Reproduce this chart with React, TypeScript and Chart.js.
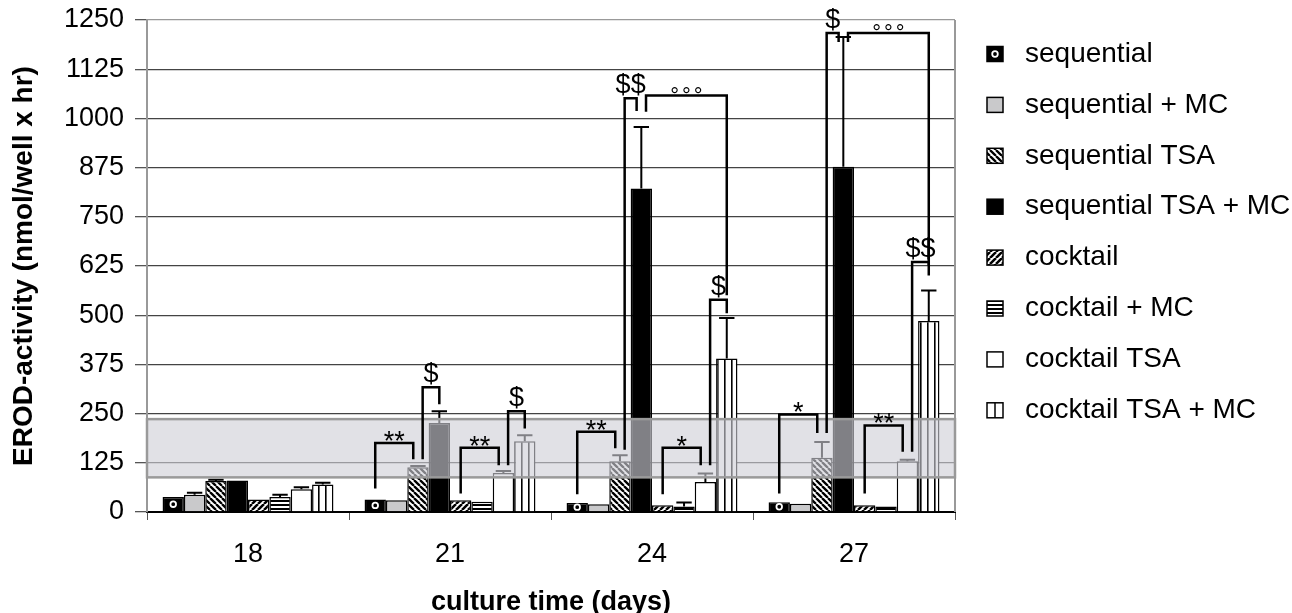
import React, { useEffect, useRef } from 'react';
import { Chart, registerables } from 'chart.js';

Chart.register(...registerables);

const FONT = '"Liberation Sans", Arial, Helvetica, sans-serif';

// ---------- data ----------
const categories = ['18', '21', '24', '27'];
const seriesLabels = [
  'sequential',
  'sequential + MC',
  'sequential TSA',
  'sequential TSA + MC',
  'cocktail',
  'cocktail + MC',
  'cocktail TSA',
  'cocktail TSA + MC',
];
const xTitle = 'culture time (days)';
const yTitle = 'EROD-activity (nmol/well x hr)';

const sequential = [38, 32, 23, 25];
const sequentialMC = [44, 30, 20, 21];
const sequentialTSA = [79, 114, 129, 138];
const sequentialTSAMC = [80, 226, 822, 877];
const cocktail = [32, 30, 17, 17];
const cocktailMC = [38, 26, 14, 14];
const cocktailTSA = [58, 99, 76, 129];
const cocktailTSAMC = [70, 180, 390, 485];

const sequentialErr = [0, 0, 0, 0];
const sequentialMCErr = [5, 0, 0, 0];
const sequentialTSAErr = [3, 3, 15, 40];
const sequentialTSAMCErr = [0, 30, 156, 330];
const cocktailErr = [0, 0, 0, 0];
const cocktailMCErr = [6, 0, 10, 0];
const cocktailTSAErr = [5, 5, 22, 4];
const cocktailTSAMCErr = [4, 15, 103, 78];

const yMin = 0;
const yMax = 1250;
const yStep = 125;

// shaded reference range
const bandLow = 88;
const bandHigh = 236;

// significance brackets
const bracketCategory = [1, 1, 1, 1, 2, 2, 2, 2, 2, 3, 3, 3, 3, 3];
const bracketLeftSeries = [0, 2, 4, 6, 0, 2, 3, 4, 6, 0, 2, 3, 4, 6];
const bracketRightSeries = [2, 3, 6, 7, 2, 3, 7, 6, 7, 2, 3, 7, 6, 7];
const bracketLeftEnd = [60, 134, 47, 119, 45, 158, 1017, 45, 119, 47, 201, 1194, 47, 153];
const bracketTop = [175, 317, 163, 256, 204, 1051, 1058, 163, 539, 248, 1217, 1217, 220, 635];
const bracketRightEnd = [134, 274, 119, 212, 162, 1019, 551, 119, 505, 201, 1194, 627, 153, 601];
const bracketLabel = ['**', '$', '**', '$', '**', '$$', '°°°', '*', '$', '*', '$', '°°°', '**', '$$'];

const seriesValues = [sequential, sequentialMC, sequentialTSA, sequentialTSAMC, cocktail, cocktailMC, cocktailTSA, cocktailTSAMC];
const seriesErrors = [sequentialErr, sequentialMCErr, sequentialTSAErr, sequentialTSAMCErr, cocktailErr, cocktailMCErr, cocktailTSAErr, cocktailTSAMCErr];

// ---------- patterns ----------
function tile(w: number, h: number, draw: (g: CanvasRenderingContext2D) => void) {
  const c = document.createElement('canvas');
  c.width = w;
  c.height = h;
  const g = c.getContext('2d')!;
  g.fillStyle = '#fff';
  g.fillRect(0, 0, w, h);
  draw(g);
  return g.createPattern(c, 'repeat')!;
}

function makeFills(): (string | CanvasPattern)[] {
  const back = tile(6, 6, (g) => {
    g.strokeStyle = '#000';
    g.lineWidth = 2.3;
    g.beginPath();
    for (let k = -1; k <= 1; k++) {
      g.moveTo(k * 6, 0);
      g.lineTo(k * 6 + 6, 6);
    }
    g.stroke();
  });
  const fwd = tile(6, 6, (g) => {
    g.strokeStyle = '#000';
    g.lineWidth = 2.5;
    g.beginPath();
    for (let k = -1; k <= 1; k++) {
      g.moveTo(k * 6, 6);
      g.lineTo(k * 6 + 6, 0);
    }
    g.stroke();
  });
  const horiz = tile(4, 4, (g) => {
    g.fillStyle = '#000';
    g.fillRect(0, 0, 4, 2);
  });
  const vert = tile(7, 4, (g) => {
    g.fillStyle = '#000';
    g.fillRect(3, 0, 1.6, 4);
  });
  return ['#000', '#c9c9cb', back, '#000', fwd, horiz, '#fff', vert];
}

function drawRing(ctx: CanvasRenderingContext2D, x: number, y: number) {
  ctx.beginPath();
  ctx.arc(x, y, 2.8, 0, Math.PI * 2);
  ctx.strokeStyle = '#fff';
  ctx.lineWidth = 1.8;
  ctx.stroke();
}

export default function App() {
  const ref = useRef<HTMLCanvasElement>(null);

  useEffect(() => {
    const fills = makeFills();

    const decor = {
      id: 'decor',
      afterDatasetsDraw(chart: any) {
        const { ctx, chartArea: a } = chart;
        const y = chart.scales.y;
        ctx.save();
        chart.getDatasetMeta(0).data.forEach((bar: any) => {
          drawRing(ctx, bar.x, (bar.y + bar.base) / 2);
        });
        seriesErrors.forEach((errs, i) => {
          chart.getDatasetMeta(i).data.forEach((bar: any, j: number) => {
            const e = errs[j];
            if (!e) return;
            const top = y.getPixelForValue(seriesValues[i][j] + e);
            const half = bar.width * 0.36;
            ctx.strokeStyle = '#000';
            ctx.lineWidth = 2;
            ctx.beginPath();
            ctx.moveTo(bar.x, bar.y);
            ctx.lineTo(bar.x, top);
            ctx.moveTo(bar.x - half, top);
            ctx.lineTo(bar.x + half, top);
            ctx.stroke();
          });
        });
        const yHi = y.getPixelForValue(bandHigh);
        const yLo = y.getPixelForValue(bandLow);
        ctx.fillStyle = 'rgba(206,206,214,0.62)';
        ctx.fillRect(a.left, yHi, a.right - a.left, yLo - yHi);
        ctx.strokeStyle = '#9a9a9a';
        ctx.lineWidth = 2.5;
        ctx.strokeRect(a.left, yHi, a.right - a.left, yLo - yHi);
        ctx.strokeStyle = '#999';
        ctx.lineWidth = 2;
        ctx.beginPath();
        ctx.moveTo(a.right, a.top);
        ctx.lineTo(a.right, a.bottom);
        ctx.stroke();
        ctx.restore();
      },
      afterDraw(chart: any) {
        const { ctx, chartArea: a } = chart;
        const y = chart.scales.y;
        ctx.save();
        const barOf = (s: number, c: number) => chart.getDatasetMeta(s).data[c] as any;
        bracketLabel.forEach((label, k) => {
          const c = bracketCategory[k];
          const ls = bracketLeftSeries[k];
          const rs = bracketRightSeries[k];
          const lb = barOf(ls, c);
          const rb = barOf(rs, c);
          const leftShared = bracketRightSeries.some((r, m) => m !== k && bracketCategory[m] === c && r === ls);
          const rightShared = bracketLeftSeries.some((l, m) => m !== k && bracketCategory[m] === c && l === rs);
          const xl = lb.x + (leftShared ? lb.width * 0.22 : 0);
          const xr = rb.x - (rightShared ? rb.width * 0.22 : 0);
          const yt = y.getPixelForValue(bracketTop[k]);
          ctx.strokeStyle = '#000';
          ctx.lineWidth = 2.5;
          ctx.lineJoin = 'miter';
          ctx.beginPath();
          ctx.moveTo(xl, y.getPixelForValue(bracketLeftEnd[k]));
          ctx.lineTo(xl, yt);
          ctx.lineTo(xr, yt);
          ctx.lineTo(xr, y.getPixelForValue(bracketRightEnd[k]));
          ctx.stroke();
          const isDeg = label.indexOf('°') >= 0;
          ctx.font = isDeg ? `22px ${FONT}` : `27px ${FONT}`;
          (ctx as any).letterSpacing = isDeg ? '3px' : '0px';
          ctx.fillStyle = '#000';
          ctx.textAlign = 'center';
          ctx.textBaseline = 'alphabetic';
          const m = ctx.measureText(label);
          ctx.fillText(label, (xl + xr) / 2 + (isDeg ? 1.5 : 0), yt - 2 - m.actualBoundingBoxDescent);
        });
        (ctx as any).letterSpacing = '0px';

        // axis titles
        ctx.fillStyle = '#000';
        ctx.font = `bold 27px ${FONT}`;
        ctx.textAlign = 'center';
        ctx.textBaseline = 'alphabetic';
        ctx.fillText(xTitle, (a.left + a.right) / 2, 610);
        ctx.save();
        ctx.translate(32, (a.top + a.bottom) / 2);
        ctx.rotate(-Math.PI / 2);
        ctx.font = `bold 28px ${FONT}`;
        ctx.fillText(yTitle, 0, 0);
        ctx.restore();

        // legend
        const lx = a.right + 32;
        const ly0 = a.top + 34;
        const gap = 50.9;
        const bw = 16;
        const bh = 15;
        seriesLabels.forEach((label, i) => {
          const cy = ly0 + i * gap;
          const top = cy - bh / 2;
          ctx.fillStyle = i === 7 ? '#fff' : (fills[i] as any);
          ctx.fillRect(lx, top, bw, bh);
          if (i === 0) drawRing(ctx, lx + bw / 2, cy);
          ctx.strokeStyle = '#000';
          ctx.lineWidth = 1.5;
          if (i === 7) {
            ctx.beginPath();
            ctx.moveTo(lx + bw / 2, top);
            ctx.lineTo(lx + bw / 2, top + bh);
            ctx.stroke();
          }
          ctx.strokeRect(lx, top, bw, bh);
          ctx.fillStyle = '#000';
          ctx.font = `28px ${FONT}`;
          ctx.textAlign = 'left';
          ctx.textBaseline = 'middle';
          ctx.fillText(label, a.right + 70, cy);
        });
        ctx.restore();
      },
    };

    const chart = new Chart(ref.current!, {
      type: 'bar',
      data: {
        labels: categories,
        datasets: seriesLabels.map((label, i) => ({
          label,
          data: seriesValues[i],
          backgroundColor: fills[i] as any,
          borderColor: '#000',
          borderWidth: 1.5,
          categoryPercentage: 0.846,
          barPercentage: 1,
        })),
      },
      options: {
        animation: false,
        responsive: false,
        layout: { padding: { top: 20, right: 337, left: 0, bottom: 0 } },
        plugins: { legend: { display: false }, tooltip: { enabled: false } },
        scales: {
          x: {
            grid: { drawOnChartArea: false, drawTicks: true, tickLength: 8, color: '#555', offset: true },
            border: { color: '#000', width: 2 },
            ticks: { font: { family: FONT, size: 27 }, color: '#000', padding: 18 },
            title: { display: false },
            afterFit: (s: any) => {
              s.height = 101;
              s.paddingLeft = 0;
              s.paddingRight = 0;
            },
          },
          y: {
            min: yMin,
            max: yMax,
            ticks: {
              stepSize: yStep,
              font: { family: FONT, size: 27 },
              color: '#000',
              padding: 11,
              callback: (v: any) => String(v),
            },
            grid: {
              color: (c: any) => (c.tick && c.tick.value === yMax ? '#999' : '#444'),
              lineWidth: 1.3,
              tickLength: 12,
              tickColor: '#555',
            },
            border: { color: '#999', width: 2 },
            title: { display: false },
            afterFit: (s: any) => {
              s.width = 147;
              s.paddingTop = 0;
              s.paddingBottom = 0;
            },
          },
        },
      } as any,
      plugins: [decor],
    });
    return () => chart.destroy();
  }, []);

  return (
    <div style={{ position: 'absolute', left: 0, top: 0, width: 1292, height: 613, background: '#fff' }}>
      <canvas ref={ref} width={1292} height={613} style={{ display: 'block', width: 1292, height: 613 }} />
    </div>
  );
}
